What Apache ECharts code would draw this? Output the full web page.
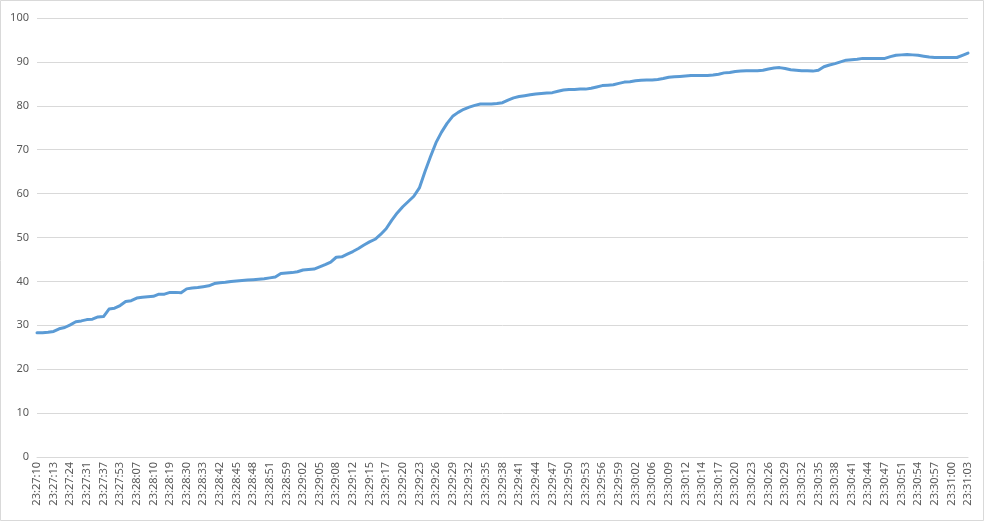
<!DOCTYPE html>
<html>
<head>
<meta charset="utf-8">
<script src="https://cdn.jsdelivr.net/npm/echarts@6/dist/echarts.min.js"></script>
<style>
html,body{margin:0;padding:0;background:#fff;}
#chart{width:984px;height:521px;}
</style>
</head>
<body>
<div id="chart"></div>
<script>
// Tick labels shown on the time axis (every third sample)
const tickLabels = [
  "23:27:10","23:27:13","23:27:24","23:27:31","23:27:37","23:27:53",
  "23:28:07","23:28:10","23:28:19","23:28:30","23:28:33","23:28:42","23:28:45","23:28:48","23:28:51","23:28:59",
  "23:29:02","23:29:05","23:29:08","23:29:12","23:29:15","23:29:17","23:29:20","23:29:23","23:29:26","23:29:29",
  "23:29:32","23:29:35","23:29:38","23:29:41","23:29:44","23:29:47","23:29:50","23:29:53","23:29:56","23:29:59",
  "23:30:02","23:30:06","23:30:09","23:30:12","23:30:14","23:30:17","23:30:20","23:30:23","23:30:26","23:30:29",
  "23:30:32","23:30:35","23:30:38","23:30:41","23:30:44","23:30:47","23:30:51","23:30:54","23:30:57",
  "23:31:00","23:31:03"
];
const samplesPerTick = 3;

// Series values
const values = [
  28.3,28.3,28.4,28.6,29.2,29.5,30.1,30.8,31.0,31.3,
  31.4,31.9,32.0,33.7,33.9,34.5,35.4,35.6,36.2,36.4,
  36.5,36.6,37.1,37.1,37.5,37.5,37.4,38.3,38.5,38.6,
  38.8,39.0,39.5,39.7,39.8,40.0,40.1,40.2,40.3,40.4,
  40.5,40.6,40.8,41.0,41.8,41.9,42.0,42.2,42.6,42.7,
  42.8,43.3,43.8,44.4,45.5,45.6,46.2,46.8,47.5,48.3,
  49.0,49.6,50.7,52.0,53.9,55.6,57.0,58.2,59.4,61.3,
  65.0,68.4,71.6,74.0,76.0,77.6,78.5,79.2,79.7,80.1,
  80.4,80.4,80.4,80.5,80.7,81.3,81.8,82.1,82.3,82.5,
  82.7,82.8,82.9,83.0,83.3,83.6,83.7,83.7,83.8,83.8,
  84.0,84.3,84.6,84.7,84.8,85.1,85.4,85.5,85.7,85.8,
  85.9,85.9,86.0,86.2,86.5,86.6,86.7,86.8,86.9,86.9,
  86.9,86.9,87.0,87.2,87.5,87.6,87.8,87.9,88.0,88.0,
  88.0,88.1,88.4,88.6,88.7,88.5,88.2,88.1,88.0,88.0,
  87.9,88.1,88.9,89.3,89.6,90.0,90.4,90.5,90.6,90.8,
  90.8,90.8,90.8,90.8,91.2,91.5,91.6,91.7,91.6,91.5,
  91.3,91.1,91.0,91.0,91.0,91.0,91.0,91.5,92.0
];

const categories = values.map((v, i) => (i % samplesPerTick === 0 ? (tickLabels[i / samplesPerTick] || '') : ''));

const chart = echarts.init(document.getElementById('chart'), null, {renderer: 'canvas'});
chart.setOption({
  animation: false,
  backgroundColor: '#ffffff',
  textStyle: {fontFamily: '"Noto Sans", "Noto Sans CJK SC", sans-serif'},
  graphic: [{
    type: 'rect', silent: true,
    shape: {x: 0.5, y: 0.5, width: 983, height: 520},
    style: {fill: 'none', stroke: '#d9d9d9', lineWidth: 1}
  }],
  grid: {left: 37, right: 16, top: 18, bottom: 64, containLabel: false},
  xAxis: {
    type: 'category',
    data: categories,
    boundaryGap: false,
    axisLine: {lineStyle: {color: '#d9d9d9', width: 1}},
    axisTick: {show: false},
    axisLabel: {
      interval: samplesPerTick - 1,
      rotate: 90,
      color: '#595959',
      fontSize: 11,
      margin: 5
    },
    splitLine: {show: false}
  },
  yAxis: {
    type: 'value',
    min: 0, max: 100, interval: 10,
    axisLine: {show: false},
    axisTick: {show: false},
    axisLabel: {color: '#595959', fontSize: 11, margin: 8},
    splitLine: {lineStyle: {color: '#d9d9d9', width: 1}}
  },
  series: [{
    type: 'line',
    data: values,
    showSymbol: false,
    symbol: 'none',
    lineStyle: {color: '#5b9bd5', width: 3, cap: 'round', join: 'round'},
    itemStyle: {color: '#5b9bd5'}
  }]
});
</script>
</body>
</html>
